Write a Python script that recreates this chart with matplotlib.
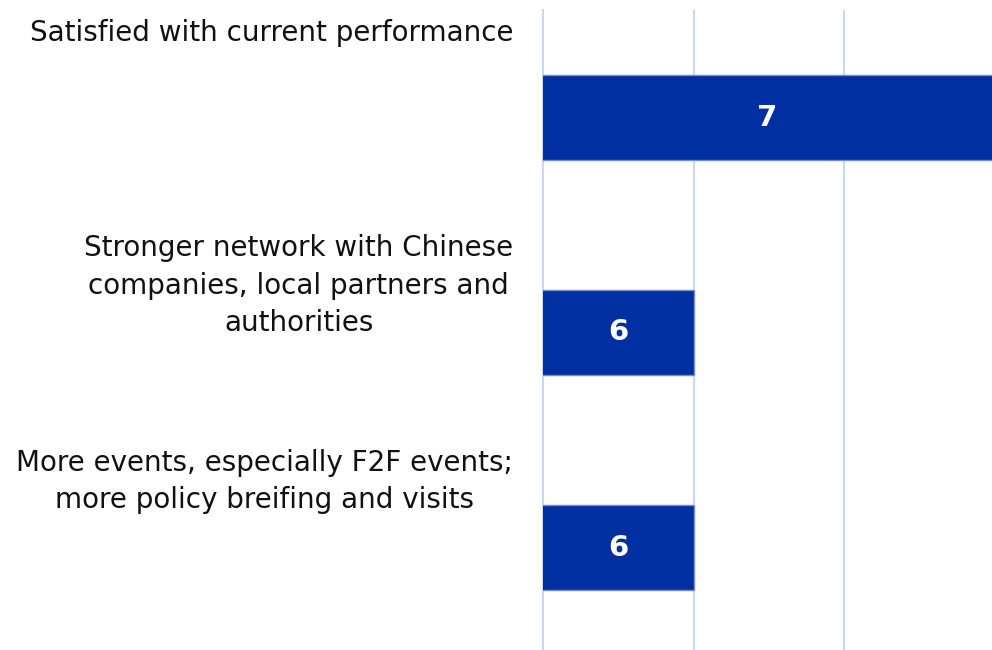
import matplotlib
matplotlib.use("Agg")
import matplotlib.pyplot as plt
from matplotlib.ticker import MultipleLocator

categories = [
    "Satisfied with current performance",
    "Stronger network with Chinese\ncompanies, local partners and\nauthorities",
    "More events, especially F2F events;\nmore policy breifing and visits",
]
values = [7, 6, 6]

BAR_COLOR = "#002FA1"
EDGE_COLOR = "#6E8CD8"
GRID_COLOR = "#C9D8F7"

plt.rcParams["font.family"] = ["DejaVu Sans"]

fig = plt.figure(figsize=(9.92, 6.5), dpi=100)
ax = fig.add_axes([543 / 992, -5 / 650, 1 - 543 / 992, 645 / 650])

ypos = list(range(len(categories)))
bars = ax.barh(ypos, values, height=0.395, color=BAR_COLOR,
               edgecolor=EDGE_COLOR, linewidth=1.0, zorder=3)

ax.set_xlim(5.5, 6.99)
ax.set_ylim(len(categories) - 0.5, -0.5)
ax.xaxis.set_major_locator(MultipleLocator(0.5))
ax.grid(axis="x", color=GRID_COLOR, linewidth=1.5, zorder=0)
ax.set_yticks([])
ax.tick_params(axis="x", length=0, labelbottom=False)
for name, s in ax.spines.items():
    if name == "left":
        s.set_color(GRID_COLOR)
        s.set_linewidth(1.5)
        s.set_zorder(0)
    else:
        s.set_visible(False)

# category labels: top-aligned within each band, right-aligned to the axis
for i, label in enumerate(categories):
    ax.text(-0.066, i - 0.5 + 0.04, label, transform=ax.get_yaxis_transform(),
            ha="right", va="top", multialignment="center",
            fontsize=20, color="#111111", linespacing=1.45)

# value labels centred inside the visible part of each bar
for rect, v in zip(bars, values):
    x0 = max(rect.get_x(), ax.get_xlim()[0])
    x1 = min(rect.get_x() + rect.get_width(), ax.get_xlim()[1])
    ax.text((x0 + x1) / 2, rect.get_y() + rect.get_height() / 2, f"{v}",
            ha="center", va="center", color="white", fontsize=21,
            fontweight="bold", zorder=4)

fig.savefig("out.png", dpi=100)
